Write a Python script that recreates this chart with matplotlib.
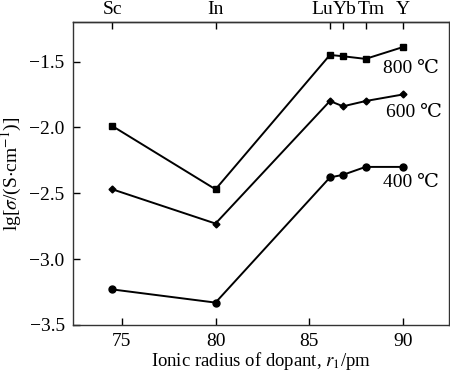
import matplotlib
matplotlib.use('Agg')
import matplotlib.pyplot as plt

plt.rcParams['font.family'] = ['Liberation Serif', 'DejaVu Serif']
plt.rcParams['mathtext.fontset'] = 'stix'

# dopant ionic radius (pm) and element names
radius = [74.5, 80.0, 86.1, 86.8, 88.0, 90.0]
elements = ['Sc', 'In', 'Lu', 'Yb', 'Tm', 'Y']

# lg(sigma) at each temperature
lg_800 = [-1.99, -2.47, -1.45, -1.46, -1.48, -1.39]
lg_600 = [-2.47, -2.73, -1.80, -1.84, -1.80, -1.75]
lg_400 = [-3.23, -3.33, -2.38, -2.36, -2.30, -2.30]

labels = ['800 \u2103', '600 \u2103', '400 \u2103']
label_pos = [(88.95, -1.555), (89.1, -1.885), (88.95, -2.42)]

# small horizontal nudges (px) so crowded element names don't collide
name_shift = [0, 0, -8, 2, 6, 0]

fs = 14

fig = plt.figure(figsize=(4.5, 3.71), dpi=100)
ax = fig.add_axes([0.1622, 0.124, 0.8356, 0.8167])

ax.plot(radius, lg_800, 'k-', marker='s', ms=5, lw=1.4)
ax.plot(radius, lg_600, 'k-', marker='D', ms=3.5, lw=1.4)
ax.plot(radius, lg_400, 'k-', marker='o', ms=5, lw=1.4)

for txt, (x, y) in zip(labels, label_pos):
    ax.text(x, y, txt, fontsize=fs, ha='left', va='center')

ax.set_xlim(72.4, 92.45)
ax.set_ylim(-3.5, -1.2)
ax.set_xticks([75, 80, 85, 90])
ax.set_yticks([-3.5, -3.0, -2.5, -2.0, -1.5])
ax.set_yticklabels(['\u22123.5', '\u22123.0', '\u22122.5', '\u22122.0', '\u22121.5'])
ax.tick_params(direction='in', length=5, width=1, labelsize=fs, pad=6)

top = ax.secondary_xaxis('top')
top.set_xticks(radius)
top.set_xticklabels([])
top.tick_params(direction='in', length=5, width=1)

for r, el, dx in zip(radius, elements, name_shift):
    ax.annotate(el, xy=(r, 1), xycoords=('data', 'axes fraction'),
                xytext=(dx, 4), textcoords='offset pixels',
                ha='center', va='bottom', fontsize=fs)

for sp in list(ax.spines.values()) + list(top.spines.values()):
    sp.set_linewidth(1.0)
    sp.set_color('#333333')

ax.set_xlabel(r'Ionic radius of dopant, $r_1$/pm', fontsize=13.5, labelpad=0)
ax.set_ylabel(r'lg[$\sigma$/(S$\cdot$cm$^{-1}$)]', fontsize=fs, labelpad=4)

fig.savefig('out.png', dpi=100)
